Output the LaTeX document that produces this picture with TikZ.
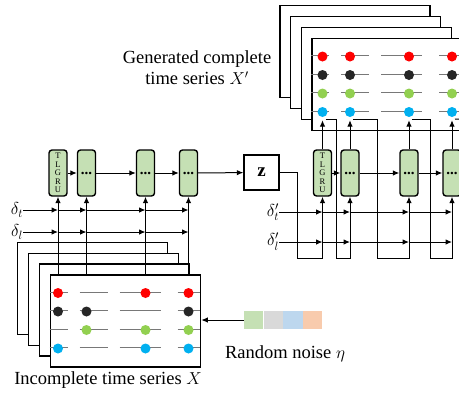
\documentclass[tikz,border=0pt]{standalone}
\usepackage{amsmath,amsfonts}
\usepackage{fontspec}
\setmainfont{Liberation Serif}
\usetikzlibrary{arrows.meta,calc}

\definecolor{cellgreen}{RGB}{197,224,180}
\definecolor{dotred}{RGB}{255,0,0}
\definecolor{dotblack}{RGB}{38,38,38}
\definecolor{dotgreen}{RGB}{146,208,80}
\definecolor{dotblue}{RGB}{0,176,240}
\definecolor{nzgray}{RGB}{217,217,217}
\definecolor{nzblue}{RGB}{189,215,238}
\definecolor{nzorange}{RGB}{248,203,173}
\definecolor{seggray}{RGB}{120,120,120}

\begin{document}
\begin{tikzpicture}[x=1pt,y=-1pt,
  cell/.style={draw,fill=cellgreen,rounded corners=3pt,line width=1.4pt,minimum width=18pt,minimum height=46pt,inner sep=0pt},
  zbox/.style={draw,line width=1.4pt,minimum size=35pt,inner sep=0pt,font=\fontsize{19}{19}\selectfont\bfseries},
  sheet/.style={draw,fill=white,line width=1.6pt,minimum width=150pt,minimum height=92pt,inner sep=0pt},
  obs/.style={circle,fill=#1,minimum size=10pt,inner sep=0pt},
  nz/.style={fill=#1,minimum width=19.3pt,minimum height=18pt,inner sep=0pt},
  link/.style={-{Latex[length=6.5pt,width=5.5pt]},line width=1pt},
  wire/.style={line width=1pt},
  seg/.style={seggray,line width=1.3pt},
  lbl/.style={font=\fontsize{18.5}{21}\selectfont,align=center,inner sep=0pt},
  gap/.style={font=\fontsize{18.5}{18.5}\selectfont,inner sep=0pt},
  dts/.style={font=\fontsize{8.5}{8.6}\selectfont,align=center},
  dotsx/.style={font=\fontsize{15}{15}\selectfont\bfseries}]
\useasboundingbox (0,0) rectangle (459,397);

% stacks of sheets
\foreach \k in {3,2,1}
  \node[sheet] (sA\k) at ({125.5-11*\k},{321-10.8*\k}) {};
\node[sheet] (xin) at (125.5,321) {};
\foreach \k in {3,2,1}
  \node[sheet] (sB\k) at ({387-10.7*\k},{84.5-11*\k}) {};
\node[sheet] (xout) at (387,84.5) {};

% time lines on the front sheets
\foreach \s in {xin,xout}
  \foreach \ry in {18,36.5,55,73.5}
    \foreach \a/\b in {0/18,30/58,70/111,128/150}
      \draw[seg] ($(\s.north west)+(\a,\ry)$) -- ($(\s.north west)+(\b,\ry)$);

% recurrent cells
\node[cell,dts] (gA1) at (58,173) {T\\L\\G\\R\\U};
\node[cell,dotsx] (gA2) at (86.5,173) {...};
\node[cell,dotsx] (gA3) at (145.5,173) {...};
\node[cell,dotsx] (gA4) at (188.5,173) {...};
\node[zbox] (z) at (261.5,172.5) {z};
\node[cell,dts] (gB1) at (322.5,173) {T\\L\\G\\R\\U};
\node[cell,dotsx] (gB2) at (350,173) {...};
\node[cell,dotsx] (gB3) at (409,173) {...};
\node[cell,dotsx] (gB4) at (452,173) {...};

% observed values
\foreach \c in {1,3,4} \node[obs=dotred] (rA\c) at (gA\c |- 0,293) {};
\foreach \c in {1,2,4} \node[obs=dotblack] (kA\c) at (gA\c |- 0,311.5) {};
\foreach \c in {2,3,4} \node[obs=dotgreen] (eA\c) at (gA\c |- 0,330) {};
\foreach \c in {1,3,4} \node[obs=dotblue] (bA\c) at (gA\c |- 0,348.5) {};
\foreach \c in {1,...,4} {
  \node[obs=dotred] (rB\c) at (gB\c |- 0,56.5) {};
  \node[obs=dotblack] (kB\c) at (gB\c |- 0,75) {};
  \node[obs=dotgreen] (eB\c) at (gB\c |- 0,93.5) {};
  \node[obs=dotblue] (bB\c) at (gB\c |- 0,112) {};
}

% time gaps
\node[gap] (dt) at (17,210) {$\delta_t$};
\node[gap] (dl) at (17,232) {$\delta_l$};
\node[gap] (dtp) at (273,212) {$\delta'_t$};
\node[gap] (dlp) at (273,242) {$\delta'_l$};

% noise
\node[nz=cellgreen] (n1) at (253.6,320) {};
\node[nz=nzgray,anchor=west] (n2) at (n1.east) {};
\node[nz=nzblue,anchor=west] (n3) at (n2.east) {};
\node[nz=nzorange,anchor=west] (n4) at (n3.east) {};

% labels
\node[lbl] (lblin) at (108,380) {Incomplete time series $X$};
\node[lbl] (lblout) at (197,68) {Generated complete\\time series $X'$};
\node[lbl] (lblnz) at (285,354) {Random noise $\eta$};

% encoder
\foreach \i in {1,...,4}
  \draw[link] (xin.north -| gA\i) -- (gA\i.south);
\draw[link] (dt.east) -- (dt.east -| gA1);
\draw[link] (dl.east) -- (dl.east -| gA1);
\foreach \i/\j in {1/2,2/3,3/4} {
  \draw[link] (gA\i) -- (gA\j);
  \draw[link] (dt.east -| gA\i) -- (dt.east -| gA\j);
  \draw[link] (dl.east -| gA\i) -- (dl.east -| gA\j);
}
\draw[link] (gA4) -- (z);
\draw[link] (n1.west) -- (n1.west -| xin.east);

% decoder
\coordinate (zturn) at (297,258);
\coordinate (fb1) at (336,258);
\coordinate (fb2) at (377,258);
\coordinate (fb3) at (430,258);
\coordinate (fbout) at (470,119);
\draw[link] (z.east) -| (zturn) -| (gB1.south);
\foreach \i in {1,...,4}
  \draw[link,shorten >=3pt] (gB\i.north) -- (bB\i.south);
\foreach \i/\j in {1/2,2/3,3/4} {
  \draw[link] ([xshift=3pt,yshift=-2pt]bB\i.south) -| (fb\i) -| (gB\j.south);
  \draw[link] (gB\i) -- (gB\j);
}
\draw[wire] ([xshift=3pt,yshift=-2pt]bB4.south) -- (fbout);
\draw[link] (dtp.east) -- (dtp.east -| gB1);
\draw[link] (dlp.east) -- (dlp.east -| gB1);
\foreach \i/\j in {1/2,2/3,3/4} {
  \draw[link] (dtp.east -| gB\i) -- (dtp.east -| gB\j);
  \draw[link] (dlp.east -| gB\i) -- (dlp.east -| gB\j);
}
\end{tikzpicture}
\end{document}
